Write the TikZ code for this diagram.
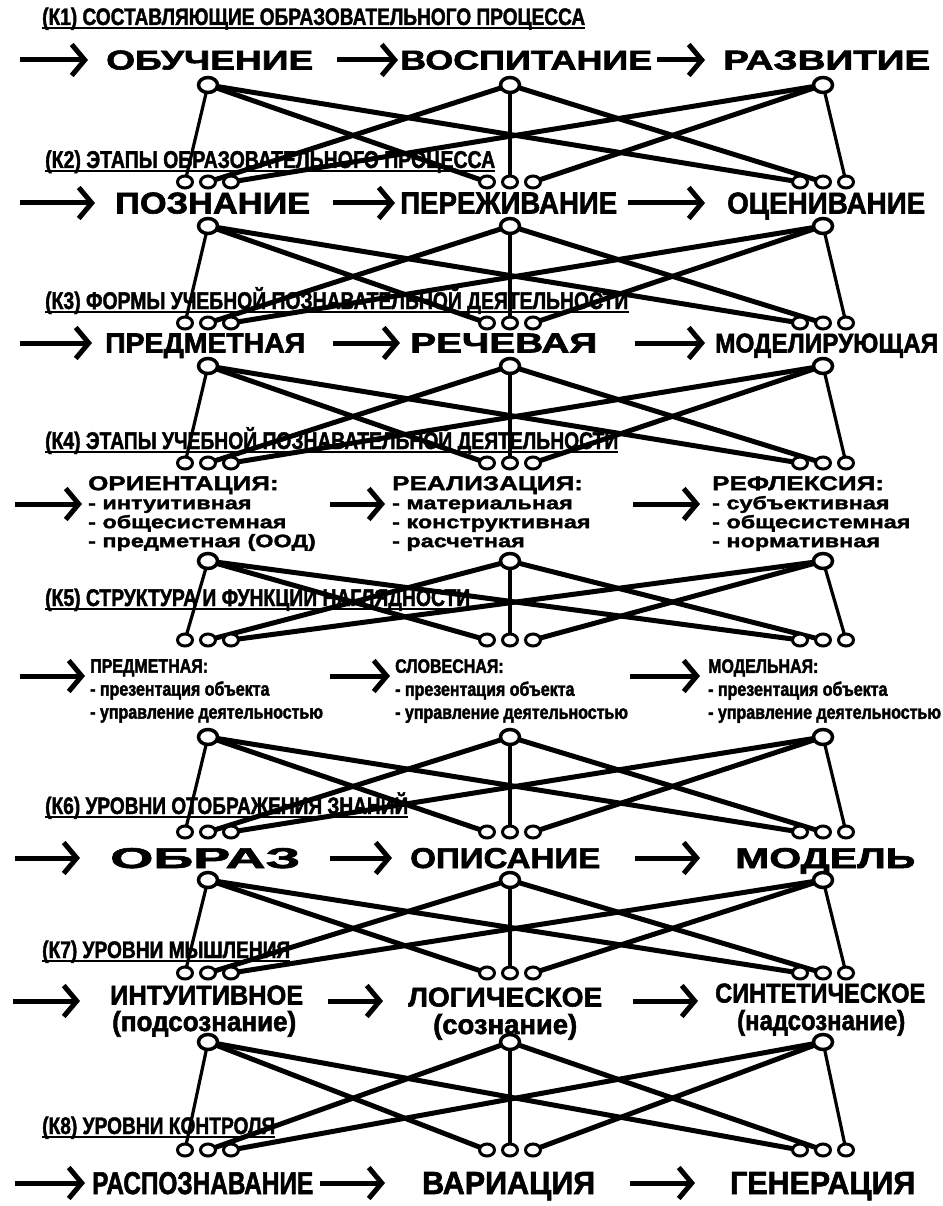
\documentclass[tikz,border=0pt]{standalone}
\usepackage{fontspec}
\setmainfont{Liberation Sans}[BoldFeatures={FakeBold=2}]
\newfontfamily\widefont{Liberation Sans}[FakeStretch=1.3, BoldFeatures={FakeBold=1.8}]
\newfontfamily\slimfont{Liberation Sans}[FakeStretch=0.82, BoldFeatures={FakeBold=2}]
\newfontfamily\headfont{Liberation Sans}[FakeStretch=0.8, BoldFeatures={FakeBold=1.6}]
\usetikzlibrary{arrows.meta, shapes.geometric}
\pgfdeclarelayer{back}
\pgfsetlayers{back,main}
% a word squeezed into a box of given width and cap height
\newcommand{\fitword}[3]{\raisebox{0pt}[#2pt][0pt]{\resizebox{#1pt}{#2pt}{#3}}}

\begin{document}
\begin{tikzpicture}[x=1pt, y=1pt, font=\bfseries,
  head/.style={anchor=base west, inner sep=0pt},
  word/.style={anchor=west, inner sep=0pt},
  stage/.style={anchor=north west, inner sep=0pt, align=left,
    font=\widefont\bfseries\fontsize{18}{19}\selectfont},
  aid/.style={anchor=north west, inner sep=0pt, align=left,
    font=\slimfont\bfseries\fontsize{19.5}{23}\selectfont},
  fwd/.style={line width=5pt, -{Straight Barb[length=13pt, width=31pt]}},
  uline/.style={line width=1.8pt},
  hub/.style={ellipse, draw, fill=white, line width=3.5pt, minimum width=19pt, minimum height=15pt, inner sep=0pt},
  pin/.style={ellipse, draw, fill=white, line width=3pt, minimum width=15pt, minimum height=12pt, inner sep=0pt},
  link/.style={line width=5pt},
  stem/.style={line width=3.2pt}]

  % rings under each row and above the next one
  \foreach \r/\y in {1/85, 2/226, 3/366, 4/561, 5/737, 6/880, 7/1042}
    \foreach \i/\x in {1/208, 2/510, 3/823}
      \node[hub] (u\r-\i) at (\x,-\y) {};
  \foreach \r/\y in {2/182, 3/323, 4/463, 5/640, 6/832, 7/973, 8/1150}
    \foreach \j/\x in {1/208, 2/510, 3/823}
      \foreach \i/\d in {1/-23, 2/0, 3/23}
        \node[pin] (d\r-\j-\i) at ({\x+\d},-\y) {};

  \begin{pgfonlayer}{back}
    \fill[white] (0,0) rectangle (942,-1206);
    % headings
    \node[head] (t1) at (42,-25) {\resizebox{543pt}{!}{\headfont (К1) СОСТАВЛЯЮЩИЕ ОБРАЗОВАТЕЛЬНОГО ПРОЦЕССА}};
    \node[head] (t2) at (45,-168) {\resizebox{450pt}{!}{\headfont (К2) ЭТАПЫ ОБРАЗОВАТЕЛЬНОГО ПРОЦЕССА}};
    \node[head] (t3) at (45,-309) {\resizebox{583pt}{!}{\headfont (К3) ФОРМЫ УЧЕБНОЙ ПОЗНАВАТЕЛЬНОЙ ДЕЯТЕЛЬНОСТИ}};
    \node[head] (t4) at (45,-449) {\resizebox{573pt}{!}{\headfont (К4) ЭТАПЫ УЧЕБНОЙ ПОЗНАВАТЕЛЬНОЙ ДЕЯТЕЛЬНОСТИ}};
    \node[head] (t5) at (45,-606) {\resizebox{425pt}{!}{\headfont (К5) СТРУКТУРА И ФУНКЦИИ НАГЛЯДНОСТИ}};
    \node[head] (t6) at (45,-814) {\resizebox{363pt}{!}{\headfont (К6) УРОВНИ ОТОБРАЖЕНИЯ ЗНАНИЙ}};
    \node[head] (t7) at (42,-958) {\resizebox{248pt}{!}{\headfont (К7) УРОВНИ МЫШЛЕНИЯ}};
    \node[head] (t8) at (42,-1134) {\resizebox{233pt}{!}{\headfont (К8) УРОВНИ КОНТРОЛЯ}};
    \foreach \t in {1,...,8}
      \draw[uline] ([yshift=-3]t\t.base west) -- ([yshift=-3]t\t.base east);
    % every ring of a row to the same ring of each group below
    \foreach \r/\n in {1/2, 2/3, 3/4, 4/5, 5/6, 6/7, 7/8}
      \foreach \i in {1,2,3}
        \foreach \j in {1,2,3} {
          \ifnum\i=\j \draw[stem] (u\r-\i.center) -- (d\n-\j-\i.center);
          \else \draw[link] (u\r-\i.center) -- (d\n-\j-\i.center); \fi
        }
  \end{pgfonlayer}

  % K1
  \node[word] (k1a) at (106,-60) {\fitword{207}{19}{ОБУЧЕНИЕ}};
  \node[word] (k1b) at (400,-60) {\fitword{252}{19}{ВОСПИТАНИЕ}};
  \node[word] (k1c) at (723,-60) {\fitword{207}{19}{РАЗВИТИЕ}};
  \draw[fwd] ([xshift=-86]k1a.west) -- ([xshift=-18]k1a.west);
  \draw[fwd] ([xshift=-63]k1b.west) -- ([xshift=-2]k1b.west);
  \draw[fwd] ([xshift=-66]k1c.west) -- ([xshift=-18]k1c.west);
  % K2
  \node[word] (k2a) at (115,-203) {\fitword{195}{21}{ПОЗНАНИЕ}};
  \node[word] (k2b) at (400,-203) {\fitword{217}{21}{ПЕРЕЖИВАНИЕ}};
  \node[word] (k2c) at (727,-203) {\fitword{198}{21}{ОЦЕНИВАНИЕ}};
  \draw[fwd] ([xshift=-95]k2a.west) -- ([xshift=-20]k2a.west);
  \draw[fwd] ([xshift=-67]k2b.west) -- ([xshift=-5]k2b.west);
  \draw[fwd] ([xshift=-99]k2c.west) -- ([xshift=-22]k2c.west);
  % K3
  \node[word] (k3a) at (105,-343) {\fitword{200}{19}{ПРЕДМЕТНАЯ}};
  \node[word] (k3b) at (410,-343) {\fitword{187}{19}{РЕЧЕВАЯ}};
  \node[word] (k3c) at (715,-343) {\fitword{223}{19}{МОДЕЛИРУЮЩАЯ}};
  \draw[fwd] ([xshift=-85]k3a.west) -- ([xshift=-13]k3a.west);
  \draw[fwd] ([xshift=-77]k3b.west) -- ([xshift=-10]k3b.west);
  \draw[fwd] ([xshift=-80]k3c.west) -- ([xshift=-10]k3c.west);
  % K4
  \node[stage] (k4a) at (88,-476) {{\fontsize{20}{20}\selectfont ОРИЕНТАЦИЯ:}\\- интуитивная\\- общесистемная\\- предметная (ООД)};
  \node[stage] (k4b) at (392,-476) {{\fontsize{20}{20}\selectfont РЕАЛИЗАЦИЯ:}\\- материальная\\- конструктивная\\- расчетная};
  \node[stage] (k4c) at (712,-476) {{\fontsize{20}{20}\selectfont РЕФЛЕКСИЯ:}\\- субъективная\\- общесистемная\\- нормативная};
  \draw[fwd] ([shift={(-73,-28)}]k4a.north west) -- ([shift={(-6,-28)}]k4a.north west);
  \draw[fwd] ([shift={(-62,-28)}]k4b.north west) -- ([shift={(-7,-28)}]k4b.north west);
  \draw[fwd] ([shift={(-79,-28)}]k4c.north west) -- ([shift={(-12,-28)}]k4c.north west);
  % K5
  \node[aid] (k5a) at (90,-659) {ПРЕДМЕТНАЯ:\\- презентация объекта\\- управление деятельностью};
  \node[aid] (k5b) at (395,-659) {СЛОВЕСНАЯ:\\- презентация объекта\\- управление деятельностью};
  \node[aid] (k5c) at (708,-659) {МОДЕЛЬНАЯ:\\- презентация объекта\\- управление деятельностью};
  \draw[fwd] ([shift={(-70,-17)}]k5a.north west) -- ([shift={(-5,-17)}]k5a.north west);
  \draw[fwd] ([shift={(-65,-17)}]k5b.north west) -- ([shift={(-5,-17)}]k5b.north west);
  \draw[fwd] ([shift={(-78,-17)}]k5c.north west) -- ([shift={(-8,-17)}]k5c.north west);
  % K6
  \node[word] (k6a) at (110,-858) {\fitword{190}{20}{ОБРАЗ}};
  \node[word] (k6b) at (410,-858) {\fitword{190}{20}{ОПИСАНИЕ}};
  \node[word] (k6c) at (735,-858) {\fitword{180}{20}{МОДЕЛЬ}};
  \draw[fwd] ([xshift=-95]k6a.west) -- ([xshift=-30]k6a.west);
  \draw[fwd] ([xshift=-80]k6b.west) -- ([xshift=-18]k6b.west);
  \draw[fwd] ([xshift=-100]k6c.west) -- ([xshift=-35]k6c.west);
  % K7
  \node[word] (k7a) at (110,-995) {\fitword{193}{19}{ИНТУИТИВНОЕ}};
  \node[word] (k7d) at (112,-1021) {\fitword{184}{20}{(подсознание)}};
  \node[word] (k7b) at (408,-997) {\fitword{194}{19}{ЛОГИЧЕСКОЕ}};
  \node[word] (k7e) at (433,-1024) {\fitword{144}{20}{(сознание)}};
  \node[word] (k7c) at (715,-993) {\fitword{210}{19}{СИНТЕТИЧЕСКОЕ}};
  \node[word] (k7f) at (737,-1020) {\fitword{168}{20}{(надсознание)}};
  \draw[fwd] ([shift={(-97,-6)}]k7a.west) -- ([shift={(-30,-6)}]k7a.west);
  \draw[fwd] ([shift={(-80,-4)}]k7b.west) -- ([shift={(-25,-4)}]k7b.west);
  \draw[fwd] ([shift={(-82,-8)}]k7c.west) -- ([shift={(-17,-8)}]k7c.west);
  % K8
  \node[word] (k8a) at (92,-1183) {\fitword{221}{22}{РАСПОЗНАВАНИЕ}};
  \node[word] (k8b) at (422,-1183) {\fitword{173}{22}{ВАРИАЦИЯ}};
  \node[word] (k8c) at (730,-1183) {\fitword{185}{22}{ГЕНЕРАЦИЯ}};
  \draw[fwd] ([xshift=-77]k8a.west) -- ([xshift=-7]k8a.west);
  \draw[fwd] ([xshift=-102]k8b.west) -- ([xshift=-37]k8b.west);
  \draw[fwd] ([xshift=-100]k8c.west) -- ([xshift=-35]k8c.west);
\end{tikzpicture}
\end{document}
